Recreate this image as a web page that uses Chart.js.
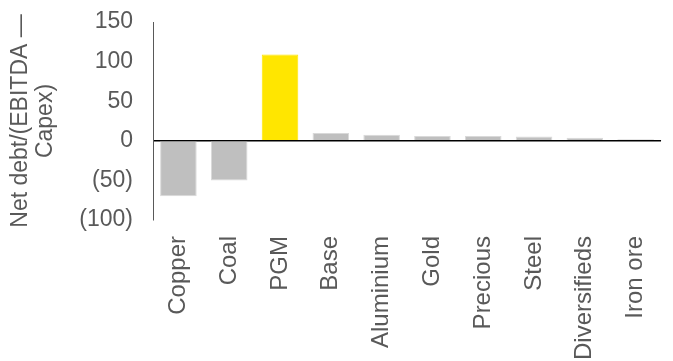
<!DOCTYPE html>
<html>
<head>
<meta charset="utf-8">
<script src="https://cdn.jsdelivr.net/npm/chart.js@4"></script>
<style>
  html, body { margin: 0; padding: 0; background: #fff; }
  #wrap { width: 673px; height: 361px; }
</style>
</head>
<body>
<div id="wrap"><canvas id="debtChart"></canvas></div>
<script>
// categories and values
const sectors = ['Copper', 'Coal', 'PGM', 'Base', 'Aluminium', 'Gold', 'Precious', 'Steel', 'Diversifieds', 'Iron ore'];
const netDebtRatio = [-70, -50, 109, 10, 7.5, 6, 6, 5.5, 4, 2];
const yTicks = [-100, -50, 0, 50, 100, 150];

const barColors = sectors.map(s => s === 'PGM' ? '#FFE600' : '#BFBFBF');
const borderColors = sectors.map(s => s === 'PGM' ? '#FFE600' : '#D9D9D9');

const ctx = document.getElementById('debtChart').getContext('2d');

new Chart(ctx, {
    type: 'bar',
    data: {
        labels: sectors,
        datasets: [{
            label: 'Net debt/(EBITDA — Capex)',
            data: netDebtRatio,
            backgroundColor: barColors,
            borderColor: borderColors,
            borderWidth: 1,
            categoryPercentage: 1,
            barPercentage: 0.72
        }]
    },
    options: {
        responsive: true,
        maintainAspectRatio: false,
        animation: false,
        layout: {
            padding: { top: 22, right: 11, left: 8, bottom: 0 }
        },
        plugins: {
            legend: { display: false },
            tooltip: { enabled: false }
        },
        scales: {
            x: {
                grid: { display: false },
                border: { display: false },
                ticks: {
                    color: '#595959',
                    font: { family: 'Liberation Sans, Arial', size: 24 },
                    maxRotation: 90,
                    minRotation: 90,
                    padding: 8
                },
                afterFit: function (scale) {
                    scale.height = 141;
                }
            },
            y: {
                min: -100,
                max: 150,
                afterBuildTicks: function (scale) {
                    scale.ticks = yTicks.map(v => ({ value: v }));
                },
                border: { display: true, color: '#595959', width: 1 },
                grid: {
                    drawTicks: true,
                    tickLength: 17,
                    tickColor: 'rgba(0,0,0,0)',
                    color: ctx => ctx.tick && ctx.tick.value === 0 ? '#000000' : 'rgba(0,0,0,0)',
                    lineWidth: 1.5
                },
                ticks: {
                    color: '#595959',
                    font: { family: 'Liberation Sans, Arial', size: 23 },
                    padding: 3,
                    callback: function (value) {
                        return value < 0 ? '(' + Math.abs(value) + ')' : value;
                    }
                },
                title: {
                    display: true,
                    text: ['Net debt/(EBITDA —', 'Capex)'],
                    color: '#595959',
                    font: { family: 'Liberation Sans, Arial', size: 23, lineHeight: 1.1 },
                    padding: { top: 0, bottom: 0 }
                },
                afterFit: function (scale) {
                    scale.width = 145;
                }
            }
        }
    }
});
</script>
</body>
</html>
